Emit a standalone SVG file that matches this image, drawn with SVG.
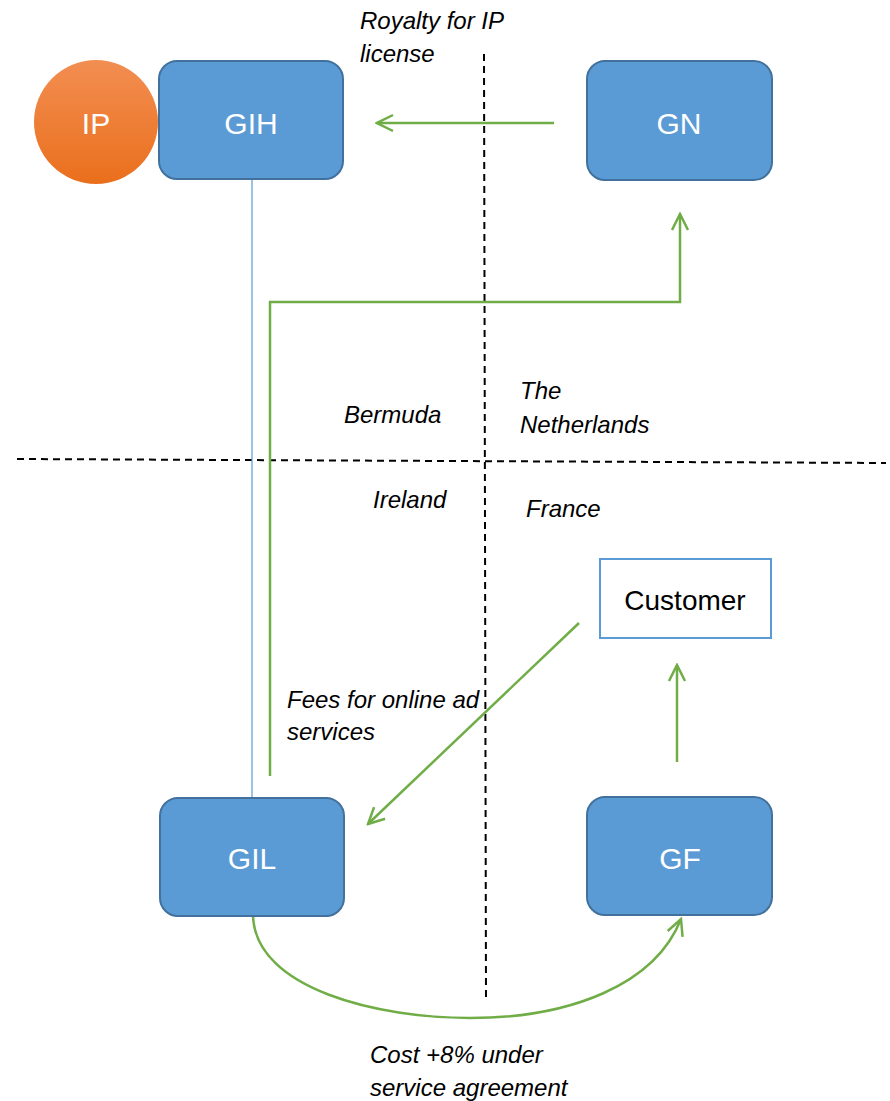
<svg xmlns="http://www.w3.org/2000/svg" width="890" height="1101" viewBox="0 0 890 1101">
<style>
.box{fill:#5B9BD5;stroke:#41719C;stroke-width:2}
.lbl{font-family:"Liberation Sans",Arial,sans-serif;font-size:30px;fill:#fff;text-anchor:middle;dominant-baseline:central}
.it{font-family:"Liberation Sans",Arial,sans-serif;font-size:24px;font-style:italic;fill:#000}
.flow{fill:none;stroke:#70AD47;stroke-width:2.5}
.dash{fill:none;stroke:#000;stroke-width:2;stroke-dasharray:7 5}
</style>
<defs>
<linearGradient id="og" x1="0" y1="0" x2="0" y2="1">
<stop offset="0" stop-color="#F28E52"/>
<stop offset="1" stop-color="#EA6F1C"/>
</linearGradient>
<marker id="ah" viewBox="0 0 20 20" refX="18" refY="10" markerWidth="20" markerHeight="20" markerUnits="userSpaceOnUse" orient="auto">
<path d="M2,2 L18,10 L2,18" fill="none" stroke="#70AD47" stroke-width="2.5"/>
</marker>
</defs>
<g id="dividers">
<line class="dash" x1="484" y1="54" x2="486" y2="1000"/>
<line class="dash" x1="17" y1="459" x2="886" y2="463"/>
</g>
<g id="connectors">
<line x1="252" y1="179" x2="252" y2="798" stroke="#5B9BD5" stroke-width="1.2"/>
<line class="flow" x1="554" y1="123" x2="377" y2="123" marker-end="url(#ah)"/>
<polyline class="flow" points="270,776 270,302 680,302 680,214" marker-end="url(#ah)"/>
<line class="flow" x1="579" y1="623" x2="368" y2="824" marker-end="url(#ah)"/>
<line class="flow" x1="677" y1="762" x2="677" y2="665" marker-end="url(#ah)"/>
<path class="flow" d="M253,916 C256,990 380,1018 470,1018 C570,1018 655,985 681,919" marker-end="url(#ah)"/>
</g>
<g id="IP">
<circle cx="96" cy="122" r="62" fill="url(#og)"/>
<text class="lbl" x="96" y="123">IP</text>
</g>
<g id="GIH">
<rect class="box" x="159" y="61" width="184" height="118" rx="18"/>
<text class="lbl" x="251" y="123">GIH</text>
</g>
<g id="GN">
<rect class="box" x="587" y="61" width="185" height="119" rx="18"/>
<text class="lbl" x="679" y="123">GN</text>
</g>
<g id="GIL">
<rect class="box" x="160" y="798" width="184" height="118" rx="18"/>
<text class="lbl" x="252" y="858">GIL</text>
</g>
<g id="GF">
<rect class="box" x="587" y="797" width="185" height="118" rx="18"/>
<text class="lbl" x="680" y="858">GF</text>
</g>
<g id="Customer">
<rect x="600" y="559" width="171" height="79" fill="#fff" stroke="#5B9BD5" stroke-width="2"/>
<text x="685" y="600" font-family="Liberation Sans, Arial, sans-serif" font-size="28" fill="#000" text-anchor="middle" dominant-baseline="central">Customer</text>
</g>
<g id="labels">
<text class="it" x="360" y="29">Royalty for IP</text>
<text class="it" x="360" y="62">license</text>
<text class="it" x="344" y="423">Bermuda</text>
<text class="it" x="520" y="399">The</text>
<text class="it" x="520" y="433">Netherlands</text>
<text class="it" x="373" y="508">Ireland</text>
<text class="it" x="526" y="517">France</text>
<text class="it" x="287" y="708">Fees for online ad</text>
<text class="it" x="287" y="740">services</text>
<text class="it" x="370" y="1063">Cost +8% under</text>
<text class="it" x="370" y="1096">service agreement</text>
</g>
</svg>
